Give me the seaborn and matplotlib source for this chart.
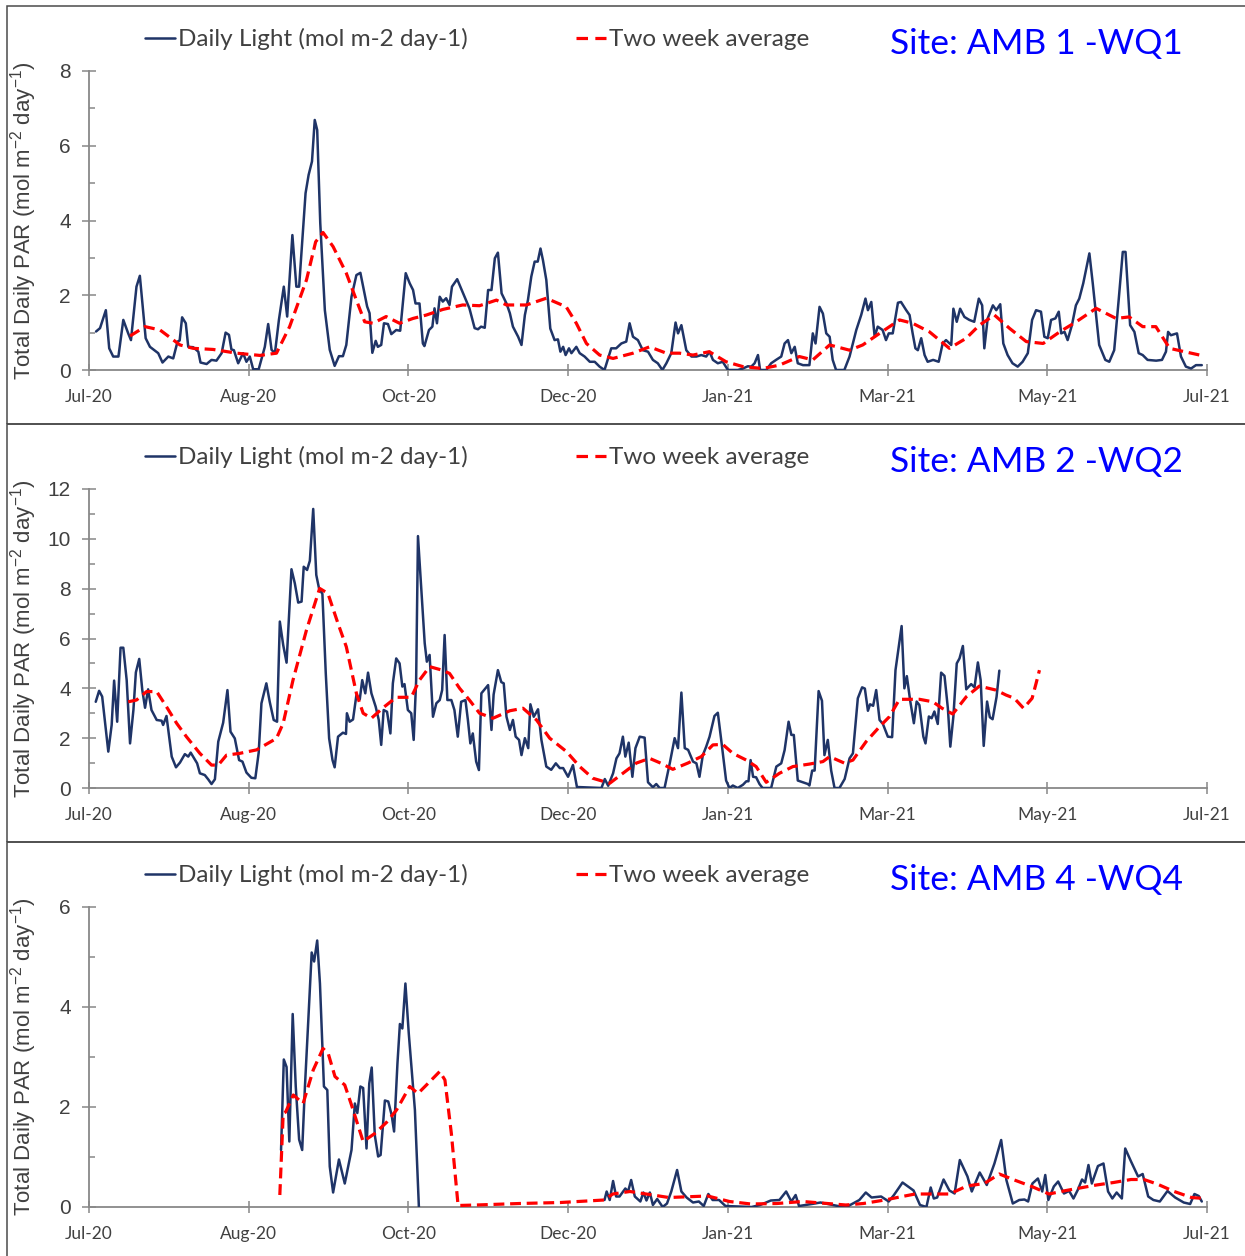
import numpy as np
import pandas as pd
import matplotlib
matplotlib.use("Agg")
import matplotlib.pyplot as plt
import seaborn as sns
from matplotlib.patches import Rectangle
from matplotlib.lines import Line2D
from matplotlib.ticker import MultipleLocator

# ---------------- data (day = days since 1 Jul 2020) ----------------
month_labels = ["Jul-20", "Aug-20", "Oct-20", "Dec-20", "Jan-21", "Mar-21", "May-21", "Jul-21"]
site_titles = ["Site: AMB 1 -WQ1", "Site: AMB 2 -WQ2", "Site: AMB 4 -WQ4"]
legend_labels = ["Daily Light (mol m-2 day-1)", "Two week average"]
y_max = [8, 12, 6]

p1_light = [(2.3,1.03),(3.6,1.12),(5.5,1.6),(6.6,0.58),(7.9,0.36),(9.6,0.36),(11.2,1.34),(12.8,0.98),(13.7,0.8),
(15.5,2.23),(16.6,2.52),(18.5,0.85),(19.9,0.62),(22.6,0.45),(24,0.2),(25.9,0.36),(27.5,0.31),(28.9,0.76),(29.6,0.79),
(30.4,1.41),(31.6,1.25),(32.4,0.62),(34,0.61),(35.7,0.49),(36.4,0.2),(38.4,0.16),(40,0.27),(41.6,0.25),(43.3,0.45),
(44.6,1.0),(45.7,0.94),(46.5,0.55),(47.3,0.53),(48.7,0.18),(50.3,0.45),(51.4,0.22),(52.5,0.36),(53.6,0.02),(55.4,0.02),
(57.4,0.62),(58.5,1.23),(59.6,0.54),(60.7,0.45),(62,1.34),(63.6,2.23),(64.7,1.43),(66.4,3.61),(67.7,2.23),(68.6,2.23),
(70.7,4.73),(71.7,5.22),(72.8,5.58),(73.7,6.69),(74.5,6.42),(75.5,3.93),(77,1.6),(78.6,0.54),(80.2,0.11),(81.6,0.37),
(82.9,0.37),(84,0.67),(85.7,1.96),(87.3,2.54),(88.6,2.6),(90.8,1.7),(91.6,1.52),(92.5,0.46),(93.6,0.78),(94.3,0.62),
(95.4,0.67),(96.3,1.25),(97.6,1.23),(98.7,0.96),(100.3,1.07),(101.6,1.05),(103.4,2.59),(104.7,2.32),(105.8,2.14),
(106.6,1.78),(107.9,1.78),(109,0.71),(109.5,0.64),(111,1.07),(112.1,1.16),(112.8,1.65),(113.6,1.25),(114.5,1.96),
(115.5,1.83),(116.6,1.92),(117.7,1.74),(118.5,2.23),(120.2,2.43),(122.6,1.96),(124.2,1.65),(125.9,1.12),(127,1.09),
(128,1.16),(129.2,1.13),(130.3,2.14),(131.4,2.14),(132.5,2.99),(133.5,3.14),(134.7,2.05),(136.3,1.78),(137.4,1.52),
(138.4,1.16),(140.1,0.89),(141.2,0.67),(142.3,1.47),(143.3,1.87),(144.4,2.5),(145.5,2.9),(146.5,2.9),(147.4,3.25),
(148.2,2.94),(149.3,2.41),(150.6,1.11),(152,0.8),(153.1,0.82),(153.9,0.49),(154.8,0.62),(155.6,0.4),(156.7,0.58),
(157.5,0.45),(159.1,0.62),(160.2,0.45),(161.8,0.36),(163.5,0.22),(165.1,0.22),(166.7,0.09),(168.3,0.0),(170.5,0.58),
(172.1,0.58),(173.8,0.71),(175.4,0.76),(176.5,1.25),(177.6,0.89),(179.2,0.8),(180.8,0.53),(182.5,0.49),(184.1,0.27),
(185.7,0.18),(187.2,0.0),(188.5,0.18),(190.1,0.45),(191.5,1.27),(192.3,0.98),(193.4,1.2),(195,0.53),(196.7,0.36),
(198.3,0.36),(199.9,0.4),(201.5,0.36),(202.6,0.49),(203.7,0.27),(205.3,0.18),(206.9,0.22),(208.6,0.0),(211.8,0.0),
(213.5,0.04),(215.1,0.1),(216.2,0.09),(217.3,0.18),(218.4,0.4),(219.1,0.0),(221.1,0.0),(222.7,0.18),(224.3,0.27),
(226,0.36),(227.1,0.71),(228.2,0.8),(229.3,0.45),(230.4,0.62),(231.4,0.18),(233.1,0.13),(235.2,0.13),(236.3,0.98),
(237.2,0.71),(238.5,1.69),(239.6,1.51),(240.7,0.98),(241.8,0.89),(242.8,0.27),(243.9,0.0),(246.6,0.0),(248.3,0.36),
(250.5,1.07),(252.1,1.47),(253.5,1.91),(254.3,1.6),(255.4,1.82),(256.5,0.89),(257.5,1.16),(259.1,1.07),(260.2,0.8),
(261.1,0.98),(262.4,0.98),(264.1,1.8),(265.1,1.82),(266.8,1.6),(267.9,1.47),(268.9,0.98),(269.8,0.58),(270.6,0.53),
(271.7,0.85),(272.8,0.4),(273.8,0.22),(275.6,0.27),(277.4,0.22),(278.7,0.71),(279.8,0.8),(281.5,0.67),(282.2,1.64),
(283.3,1.29),(284.4,1.64),(285.8,1.42),(287.4,1.34),(289,1.29),(290.5,1.91),(291.6,1.73),(292.3,0.58),(293.4,1.38),
(295.1,1.73),(296.2,1.6),(297.5,1.76),(298.5,0.71),(299.9,0.4),(301.5,0.18),(303.2,0.09),(304.8,0.22),(306.5,0.45),
(307.9,1.34),(309.2,1.6),(310.8,1.56),(311.9,0.89),(313,0.85),(314.1,1.34),(315.5,1.38),(316.6,1.56),(317.4,0.98),
(318.5,1.02),(319.5,0.8),(320.9,1.2),(322.2,1.73),(323.3,1.91),(324.6,2.32),(326.6,3.12),(327.7,2.32),(329.8,0.67),
(331.8,0.27),(333.1,0.22),(334.7,0.53),(336.2,1.91),(337.5,3.16),(338.4,3.16),(339.9,1.2),(341.3,1.02),(342.7,0.45),
(344,0.4),(345.6,0.27),(348.4,0.25),(350.3,0.27),(351.6,0.49),(352.3,1.02),(353.2,0.93),(355.2,0.98),(356.5,0.36),
(358.1,0.09),(359.8,0.04),(361.4,0.13),(363.3,0.13)]

p1_avg = [(13.4,0.91),(18.3,1.16),(23.2,1.07),(29.7,0.67),(34,0.58),(40.5,0.55),(48.2,0.45),(55.8,0.39),(61.2,0.45),
(65.5,1.16),(71,2.41),(74,3.43),(76.4,3.68),(79.7,3.3),(84,2.59),(87.3,1.87),(90,1.29),(92.7,1.25),(97,1.43),
(101.4,1.25),(105.8,1.38),(110.1,1.47),(115.5,1.62),(122,1.74),(127.5,1.72),(133,1.87),(136.3,1.74),(142.8,1.74),
(149.3,1.92),(155.8,1.69),(159.1,1.25),(162.4,0.71),(166.7,0.4),(171.1,0.31),(177.6,0.45),(183,0.62),(188.5,0.45),
(192.8,0.45),(197.2,0.4),(202.5,0.49),(208,0.22),(213.5,0.09),(220,0.04),(225.4,0.13),(231.9,0.36),(236.3,0.27),
(241.8,0.67),(248.3,0.53),(252.6,0.67),(258.1,0.98),(264.6,1.34),(268.9,1.25),(274.4,1.02),(280.9,0.58),(286.4,0.85),
(290.7,1.2),(295.6,1.47),(300.6,1.11),(306,0.76),(311.5,0.71),(316.9,1.02),(322.3,1.29),(328.8,1.65),(335.3,1.38),
(339.6,1.42),(344,1.16),(348.3,1.16),(352.8,0.58),(357.1,0.5),(362.6,0.4)]

p2_light = [(2.2,3.46),(3.3,3.9),(4.3,3.67),(6.3,1.46),(7.4,2.53),(8.2,4.31),(9.2,2.66),(10.3,5.63),(11.2,5.63),
(12.3,4.33),(13.4,1.79),(14.5,3.13),(15.3,4.64),(16.4,5.18),(17.4,3.93),(18.3,3.22),(19.3,3.96),(20.4,3.13),(22.1,2.73),
(23.7,2.7),(24.2,2.53),(25.3,2.89),(27,1.26),(28.4,0.83),(29.7,1.02),(31.3,1.36),(32.4,1.26),(33.2,1.42),(34.6,1.13),
(35.3,0.99),(36.2,0.59),(37.8,0.52),(38.9,0.35),(40,0.16),(41.1,0.35),(42.2,1.86),(43.8,2.62),(45.2,3.93),(46.2,2.26),
(47.6,1.99),(49,1.12),(50.1,1.06),(51.4,0.62),(53,0.41),(54.3,0.39),(55.4,1.42),(56.3,3.4),(57.9,4.2),(59,3.46),
(60.3,2.73),(61.4,2.66),(62.3,6.68),(63.4,5.74),(64.5,5.03),(66.1,8.78),(67.2,8.21),(68.3,7.44),(69.4,7.48),(70.1,8.88),
(71.2,8.75),(72.1,9.12),(73.2,11.2),(74.2,8.55),(75.1,8.01),(76.2,7.79),(77.3,4.6),(78.4,1.99),(79.5,1.12),(80.2,0.83),
(81.3,2.06),(82.9,2.22),(83.9,2.17),(84.2,3.0),(85.1,2.66),(86.2,2.75),(87.3,3.73),(88.4,3.56),(89.2,4.33),(90.2,3.8),
(91.1,4.63),(92.2,3.8),(93.6,3.26),(94.6,2.73),(95.4,1.73),(96.2,3.13),(97.3,3.06),(98.4,2.19),(99.2,4.2),(100.3,5.2),
(101.4,5.0),(102.3,4.07),(103,4.17),(104.1,3.13),(105.2,3.0),(106,1.93),(106.8,4.3),(107.4,10.11),(108.5,7.95),
(109.6,5.81),(110.3,5.07),(111.2,5.34),(112.3,2.86),(113.4,3.4),(114.5,3.53),(115.3,3.93),(116.1,6.14),(117,3.53),
(118.3,3.53),(119.3,3.13),(120.4,2.06),(121.5,3.46),(122.9,3.53),(123.7,2.73),(124.5,1.79),(125.3,2.19),(126.4,1.06),
(127.3,0.72),(128.1,3.8),(130.3,4.13),(131.4,2.33),(132.1,3.75),(133.5,4.73),(134.6,4.25),(135.4,4.2),(136.3,2.86),
(137.4,2.33),(138.4,2.73),(139.3,2.06),(140.4,1.93),(141.2,1.32),(142.3,2.0),(143.4,1.6),(144.1,3.36),(145.2,2.86),
(146.6,3.16),(147.7,1.93),(149.3,0.86),(150.9,0.73),(152.4,0.99),(153.7,0.8),(154.8,0.8),(156.4,0.45),(158,0.92),
(159.3,0.04),(167.3,0.0),(168.4,0.36),(169.5,0.09),(171.1,0.59),(172.2,1.19),(173.2,1.39),(174.3,2.06),(175.1,1.26),
(176.2,1.82),(177.4,0.45),(178.4,1.6),(179.8,2.06),(181.4,2.02),(182.5,0.23),(184.1,0.03),(185.2,0.16),(186.3,0.0),
(187.9,0.0),(189.6,0.99),(191.2,2.0),(192.3,1.6),(193.4,3.83),(194.5,1.6),(195.6,1.53),(197.2,1.06),(198.3,0.99),
(199.3,0.45),(200.4,1.32),(201.5,1.66),(202.6,2.06),(204.2,2.89),(205.3,3.02),(206.4,1.93),(208,0.3),(209.1,0.0),
(210.2,0.1),(211.8,0.0),(213.5,0.13),(214.6,0.27),(215.3,0.27),(216,1.12),(216.8,0.45),(217.8,0.43),(218.9,0.16),
(219.9,0.0),(222.7,0.0),(224.4,0.86),(226,0.99),(227.1,1.52),(228.4,2.66),(229.3,2.13),(230.1,2.13),(231.4,0.3),
(233.1,0.23),(234.7,0.16),(235.2,0.1),(236.1,0.7),(236.9,0.7),(238.2,3.89),(239.3,3.5),(240.1,1.32),(241.2,1.93),
(242.3,0.7),(243.4,0.0),(245,0.0),(246.7,0.36),(248.3,1.19),(249.4,1.39),(251,3.6),(252.4,4.04),(253.3,3.99),
(254.3,3.1),(255,3.36),(256,3.3),(257,3.93),(258.1,2.73),(259.2,2.57),(260.8,2.06),(262.2,2.04),(263.3,4.73),
(265.3,6.5),(266.2,4.0),(267,4.49),(268.1,3.5),(269.3,2.6),(270.2,3.47),(271.1,3.33),(272.4,2.06),(273.1,1.79),
(274.2,2.87),(275.1,2.8),(276,3.07),(277.1,2.57),(278.2,4.63),(279.3,4.5),(280.4,3.2),(281.2,1.66),(282.2,2.87),
(283.3,5.0),(284.2,5.2),(285.3,5.7),(286.4,3.96),(288,4.17),(289.1,4.04),(290.2,5.04),(291.1,4.33),(292.1,1.69),
(293.2,3.47),(294.1,2.84),(295,2.76),(296.3,3.66),(297.2,4.71)]

p2_avg = [(12.8,3.46),(15.5,3.53),(18.8,3.87),(22.1,3.87),(25.3,3.26),(28.6,2.6),(31.8,2.06),(36.2,1.39),(40,0.92),
(42.2,0.92),(44.9,1.32),(49.2,1.39),(54.7,1.53),(61.2,1.99),(63.4,2.6),(66.6,4.33),(71,6.34),(75.3,8.01),(78,7.81),
(81.3,6.6),(84,5.67),(87.3,3.8),(89.5,3.0),(92.2,2.8),(96,3.22),(100.3,3.64),(105.2,3.64),(107.9,4.33),(111.2,4.87),
(115,4.74),(117.7,4.6),(121,4.0),(124.2,3.53),(127.5,3.0),(131.9,2.8),(137.4,3.1),(141.7,3.2),(146.1,2.73),(150.4,2.0),
(155.9,1.46),(160.2,0.86),(164.5,0.39),(170,0.19),(174.3,0.59),(178.7,1.0),(183,1.19),(186.8,0.99),(190.6,0.75),
(195.5,1.0),(199.9,1.26),(203.7,1.73),(206.9,1.75),(210.2,1.39),(214.6,1.12),(217.8,0.86),(221.1,0.23),(225.4,0.59),
(229.8,0.86),(235.2,0.96),(239.6,1.06),(241.8,1.26),(246.6,1.0),(249.4,1.12),(253.7,1.86),(258.1,2.46),(261.3,2.86),
(264.6,3.56),(271.1,3.56),(275.5,3.46),(278.5,3.2),(282,2.97),(286.4,3.66),(290.7,4.09),(296.1,3.93),(299.4,3.73),
(302.1,3.6),(305.1,3.2),(307.9,3.6),(309.2,4.2),(310.3,4.73)]

p3_light_a = [(62.7,1.14),(63.6,2.95),(64.5,2.8),(65.4,1.31),(66.5,3.86),(67.5,2.41),(68.6,1.35),(69.6,1.14),
(70.5,2.41),(71.6,3.74),(72.7,5.09),(73.5,4.91),(74.5,5.33),(75.4,4.47),(76.7,2.41),(77.8,2.34),(78.6,0.81),
(79.7,0.29),(81.6,0.95),(83.5,0.47),(85.7,1.14),(86.8,2.07),(87.6,1.88),(88.6,2.41),(89.5,2.38),(90.6,1.17),
(91.5,2.47),(92.3,2.79),(93.3,1.44),(94.4,1.01),(95.2,1.04),(96.6,2.13),(97.7,2.11),(98.8,1.84),(99.6,1.51),
(100.7,2.87),(101.5,3.66),(102.3,3.57),(103.3,4.47),(104.4,3.47),(106.4,1.94),(107.7,0.0)]

p3_light_b = [(168.3,0.14),(169.0,0.31),(170.0,0.14),(171.1,0.52),(172.1,0.21),(173.2,0.21),(175.1,0.37),(176.0,0.31),
(177.0,0.54),(178.2,0.21),(180.0,0.11),(181.0,0.29),(182.0,0.13),(183.1,0.29),(184.1,0.04),(185.5,0.16),(187.3,0.0),
(188.7,0.07),(190.1,0.31),(192.0,0.74),(193.4,0.31),(195.1,0.19),(197.2,0.09),(199.1,0.11),(200.7,0.02),(202.2,0.26),
(203.6,0.14),(205.7,0.14),(207.8,0.02),(216.3,0.0),(219.1,0.04),(222.6,0.13),(225.4,0.14),(227.6,0.31),(229.3,0.11),
(230.7,0.24),(231.8,0.02),(236.0,0.06),(238.8,0.09),(244.5,0.02),(247.3,0.0),(251.5,0.14),(253.6,0.29),(255.5,0.19),
(258.6,0.21),(261.1,0.11),(262.8,0.24),(265.6,0.49),(269.2,0.33),(271.3,0.04),(273.4,0.0),(274.8,0.39),(275.8,0.17),
(276.9,0.19),(279.0,0.55),(280.9,0.33),(282.6,0.27),(284.3,0.94),(286.8,0.61),(288.2,0.31),(290.8,0.69),(293.1,0.44),
(295.6,0.87),(297.8,1.34),(299.5,0.54),(301.6,0.07),(303.7,0.14),(305.4,0.15),(306.6,0.11),(308.0,0.47),(309.8,0.57),
(311.2,0.31),(312.2,0.64),(313.2,0.14),(315.0,0.41),(316.4,0.51),(318.3,0.27),(320.0,0.32),(321.4,0.17),(322.8,0.34),
(324.2,0.55),(325.2,0.49),(326.3,0.84),(327.4,0.47),(329.4,0.82),(331.2,0.87),(332.7,0.31),(334.1,0.17),(335.5,0.29),
(337.2,0.17),(338.3,1.17),(340.2,0.91),(342.5,0.61),(344.0,0.66),(345.8,0.21),(347.5,0.14),(349.6,0.11),(352.1,0.32),
(354.6,0.19),(357.4,0.09),(359.5,0.06),(360.9,0.26),(362.3,0.22),(363.3,0.11)]

p3_avg = [(62.3,0.24),(63.4,1.87),(64.2,1.9),(66.7,2.24),(69.9,2.07),(73.2,2.74),(76.4,3.17),(78.1,3.07),(80.3,2.61),
(83.5,2.44),(85.7,2.04),(89.5,1.31),(93.3,1.47),(97.1,1.69),(100.4,1.94),(104.7,2.41),(107.4,2.27),(111.3,2.51),
(114.5,2.71),(116.2,2.54),(118.3,1.47),(120.5,0.03),(126.5,0.04),(140.6,0.07),(154,0.09),(168.2,0.14),(171,0.26),
(176.6,0.31),(189.3,0.19),(202,0.22),(209.1,0.11),(216.1,0.06),(224.6,0.07),(233,0.11),(247.1,0.04),(252.8,0.07),
(259.8,0.14),(265.5,0.21),(269.7,0.26),(281,0.26),(286.6,0.42),(292.3,0.47),(297.2,0.66),(302.1,0.54),(307.8,0.41),
(313.4,0.26),(319,0.33),(328.9,0.44),(334.5,0.49),(340.2,0.55),(344.4,0.55),(348.7,0.46),(354.3,0.31),(359.9,0.19),
(364.2,0.17)]

panel_light = [[p1_light], [p2_light], [p3_light_a, p3_light_b]]
panel_avg = [p1_avg, p2_avg, p3_avg]

# ---------------- styling ----------------
sns.set_theme(style="white")
plt.rcParams["font.family"] = ["Lato", "DejaVu Sans"]
plt.rcParams["mathtext.fontset"] = "custom"
plt.rcParams["mathtext.rm"] = "Liberation Sans"
plt.rcParams["mathtext.default"] = "regular"

W, H = 1245, 1256
BLUE = "#1f3467"
RED = "#ff0000"
GREY = "#888888"
TXT = "#404040"

fig = plt.figure(figsize=(W / 100, H / 100), dpi=100)
fig.patch.set_facecolor("white")

tops = [71, 489, 907]
bottoms = [370, 788, 1207]
x_left, x_right = 89, 1207
borders = [(6, 424), (424, 842), (842, 1262)]
x_end = 365.0
tick_pos = np.arange(len(month_labels)) * x_end / (len(month_labels) - 1)

for i in range(3):
    top, bot = tops[i], bottoms[i]
    ax = fig.add_axes([x_left / W, 1 - bot / H, (x_right - x_left) / W, (bot - top) / H])
    ax.set_facecolor("none")

    rows = []
    for seg, pts in enumerate(panel_light[i]):
        for d, v in pts:
            rows.append({"day": d, "value": v, "seg": seg})
    df_light = pd.DataFrame(rows)
    df_avg = pd.DataFrame(panel_avg[i], columns=["day", "value"])

    sns.lineplot(data=df_light, x="day", y="value", units="seg", estimator=None,
                 color=BLUE, lw=1.8, ax=ax, legend=False, zorder=3)
    sns.lineplot(data=df_avg, x="day", y="value", estimator=None,
                 color=RED, lw=2.3, ax=ax, legend=False, zorder=4)
    ax.lines[-1].set_dashes((3.4, 1.8))

    ax.set_xlim(0, x_end)
    ax.set_ylim(0, y_max[i])
    ax.set_xticks(tick_pos)
    ax.set_xticklabels(month_labels)
    ax.yaxis.set_major_locator(MultipleLocator(2))
    ax.yaxis.set_minor_locator(MultipleLocator(1))
    ax.tick_params(axis="y", which="major", direction="inout", length=10, width=1.1,
                   color=GREY, labelsize=15, labelcolor=TXT, pad=8, left=True)
    ax.tick_params(axis="y", which="minor", direction="in", length=4.5, width=1.1,
                   color=GREY, left=True)
    ax.tick_params(axis="x", which="major", direction="inout", length=9, width=1.1,
                   color=GREY, labelsize=12.5, labelcolor=TXT, pad=9, bottom=True)
    for lab in ax.get_yticklabels():
        lab.set_fontfamily(["Liberation Sans", "DejaVu Sans"])
    for s in ["top", "right"]:
        ax.spines[s].set_visible(False)
    for s in ["left", "bottom"]:
        ax.spines[s].set_color(GREY)
        ax.spines[s].set_linewidth(1.3)

    ax.set_xlabel("")
    ax.set_ylabel("Total Daily PAR (mol m$^{-2}$ day$^{-1}$)", fontsize=16, color=TXT,
                  fontfamily=["Liberation Sans", "DejaVu Sans"])
    ax.yaxis.set_label_coords((39 - x_left) / (x_right - x_left), 0.5)

    # legend above plot area
    handles = [Line2D([0], [0], color=BLUE, lw=1.8),
               Line2D([0], [0], color=RED, lw=2.3, dashes=(3.6, 2.3))]
    leg = ax.legend(handles, legend_labels, loc="center left", ncol=2, frameon=False,
                    bbox_to_anchor=(145 / W, 1 - (top - 32) / H), bbox_transform=fig.transFigure,
                    fontsize=17.5, handlelength=1.25, handletextpad=0.1, columnspacing=4.45,
                    borderpad=0, borderaxespad=0)
    for t in leg.get_texts():
        t.set_color(TXT)

    fig.text(890 / W, 1 - (top - 17) / H, site_titles[i], color="#0000ff", fontsize=25.4,
             ha="left", va="baseline")

    b0, b1 = borders[i]
    fig.add_artist(Rectangle((7 / W, 1 - b1 / H), (W + 10) / W, (b1 - b0) / H,
                             transform=fig.transFigure, fill=False, edgecolor="#4a4a4a", lw=1.1))

fig.savefig("out.png", dpi=100, facecolor="white")
